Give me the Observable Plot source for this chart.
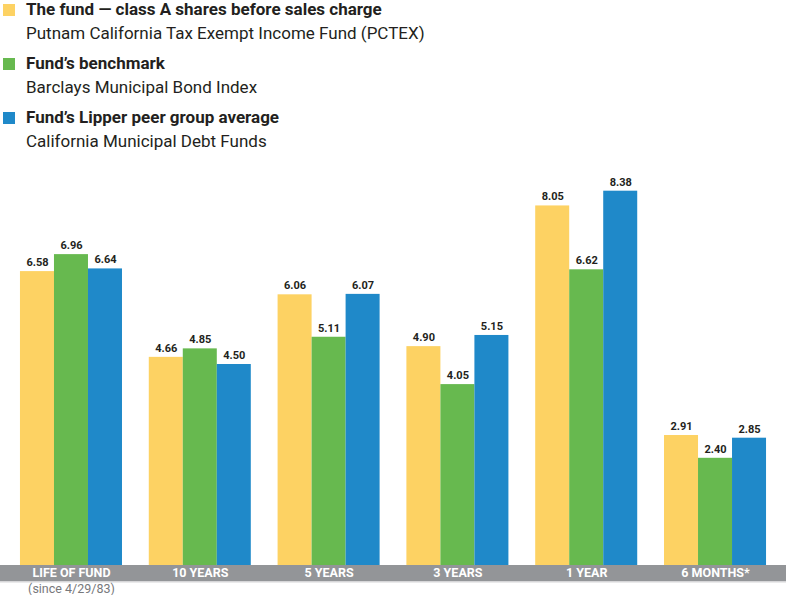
<!DOCTYPE html>
<html>
<head>
<meta charset="utf-8">
<script src="https://cdn.jsdelivr.net/npm/d3@7"></script>
<script src="https://cdn.jsdelivr.net/npm/@observablehq/plot@0.6"></script>
<style>
  html, body { margin: 0; padding: 0; background: #fff; }
  #wrap { width: 786px; height: 595px; position: relative; overflow: hidden; }
  #legend { position: relative; height: 155px; font-family: "Roboto", sans-serif; color: #231f20; }
  .sw { position: absolute; left: 3px; width: 12px; height: 12px; }
  .t { position: absolute; left: 26px; white-space: nowrap; font-weight: bold; font-size: 17px; line-height: 20px; }
  .s { position: absolute; left: 26px; white-space: nowrap; font-size: 17px; line-height: 20px; }
  #chart svg { display: block; }
</style>
</head>
<body>
<div id="wrap">
  <div id="legend"></div>
  <div id="chart"></div>
</div>
<script>
const periods = ["LIFE OF FUND", "10 YEARS", "5 YEARS", "3 YEARS", "1 YEAR", "6 MONTHS*"];
const seriesNames = ["The fund", "Benchmark", "Lipper"];
const legendTitles = ["The fund \u2014 class A shares before sales charge", "Fund\u2019s benchmark", "Fund\u2019s Lipper peer group average"];
const legendSubtitles = ["Putnam California Tax Exempt Income Fund (PCTEX)", "Barclays Municipal Bond Index", "California Municipal Debt Funds"];
const colors = ["#fdd263", "#67b94f", "#1f89c9"];
const fundValues = [6.58, 4.66, 6.06, 4.90, 8.05, 2.91];
const benchmarkValues = [6.96, 4.85, 5.11, 4.05, 6.62, 2.40];
const lipperValues = [6.64, 4.50, 6.07, 5.15, 8.38, 2.85];
const periodNote = "(since 4/29/83)";

const valueSets = [fundValues, benchmarkValues, lipperValues];
const rows = [];
periods.forEach((p, i) => {
  seriesNames.forEach((s, j) => {
    rows.push({period: p, series: s, value: valueSets[j][i]});
  });
});

// legend
const legend = document.getElementById("legend");
legendTitles.forEach((t, i) => {
  const top = i * 54;
  const sw = document.createElement("div");
  sw.className = "sw"; sw.style.top = (top + 4) + "px"; sw.style.background = colors[i];
  const tt = document.createElement("div");
  tt.className = "t"; tt.style.top = (top - 1) + "px"; tt.textContent = t;
  const ss = document.createElement("div");
  ss.className = "s"; ss.style.top = (top + 23) + "px"; ss.textContent = legendSubtitles[i];
  legend.append(sw, tt, ss);
});

const chart = Plot.plot({
  width: 786,
  height: 440,
  marginLeft: 0,
  marginRight: 0,
  marginTop: 8,
  marginBottom: 30,
  style: {fontFamily: "Roboto, sans-serif", color: "#231f20", background: "white"},
  facet: {data: rows, x: "period"},
  fx: {domain: periods, paddingInner: 0.208, paddingOuter: 0.155, round: false, label: null, tickSize: 0, tickPadding: 3, axis: "bottom"},
  x: {domain: seriesNames, padding: 0, round: false, axis: null},
  y: {domain: [0, 9], axis: null},
  color: {domain: seriesNames, range: colors},
  marks: [
    Plot.barY(rows, {x: "series", y: "value", fill: "series", inset: 0}),
    Plot.text(rows, {x: "series", y: "value", text: d => d.value.toFixed(2), dy: -9, fontSize: 11, fontWeight: "bold", fill: "#231f20"}),
    Plot.text(rows, {filter: d => d.period === periods[0] && d.series === seriesNames[1], x: "series", y: () => 0, text: () => periodNote, dy: 23, fontSize: 12.5, fill: "#77787b"})
  ]
});
document.getElementById("chart").append(chart);

const svg = d3.select(chart);
// grey axis band
const band = svg.insert("g", ":first-child");
band.append("rect").attr("x", 0).attr("y", 410).attr("width", 786).attr("height", 16).attr("fill", "#939598");
band.append("rect").attr("x", 0).attr("y", 426).attr("width", 786).attr("height", 1.5).attr("fill", "#d6d6d8");
svg.selectAll('g[aria-label^="fx-axis"] text')
  .attr("fill", "white")
  .style("fill", "white")
  .style("font-weight", "bold")
  .style("font-size", "12.5px");
</script>
</body>
</html>
